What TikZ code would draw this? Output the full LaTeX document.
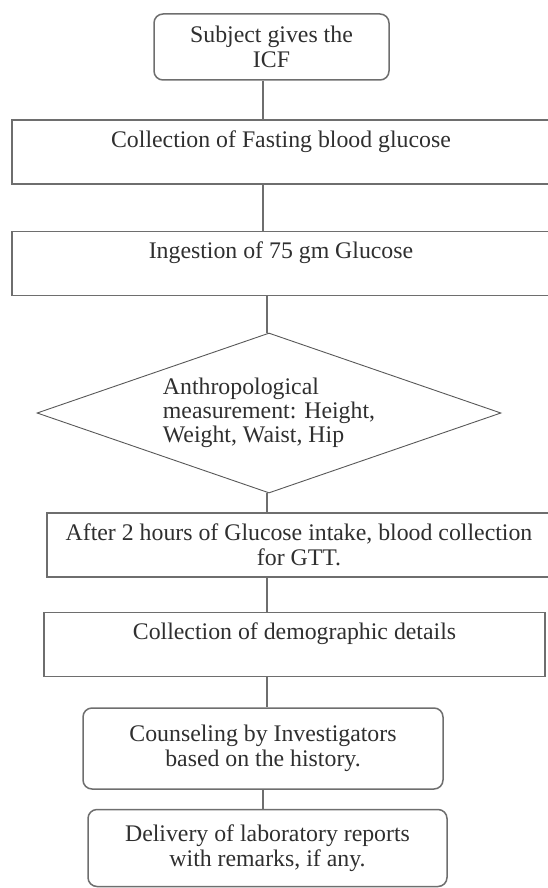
\documentclass[tikz,border=0pt]{standalone}
\usepackage{fontspec}
\setmainfont{Liberation Serif}
\usepackage{tikz}
\usepackage{xcolor}
\usetikzlibrary{
    shapes.geometric,
    positioning
}
\definecolor{inkgray}{HTML}{2F2F2F}
\definecolor{rulegray}{HTML}{6E6E6E}
\tikzset{stepbox/.style={rectangle, draw=rulegray, line width=1.5pt, inner sep=0pt, text=inkgray, align=center, font=\fontsize{23.8}{25}\selectfont}}
\tikzset{roundbox/.style={stepbox, rounded corners=9pt}}
\tikzset{toptext/.style={text height=27pt, text depth=37pt}}
\tikzset{decbox/.style={diamond, draw=rulegray!80!black, line width=0.9pt, inner sep=0pt, aspect=2.9, text=inkgray, align=left, font=\fontsize{23.8}{24}\selectfont}}
\tikzset{link/.style={draw=rulegray, line width=1.5pt}}

\begin{document}
\begin{tikzpicture}[x=1pt, y=-1pt]
    \useasboundingbox (0,0) rectangle (547,888);
    \node[roundbox, minimum width=235pt, minimum height=66pt] (icf) at (271.5, 47) {Subject gives the\\ICF};
    \node[stepbox, toptext, minimum width=538pt] (fbg) at (281, 152) {Collection of Fasting blood glucose};
    \node[stepbox, toptext, minimum width=538pt] (ogl) at (281, 263.5) {Ingestion of 75 gm Glucose};
    \node[decbox, minimum width=464pt, minimum height=160pt] (anthro) at (269, 413) {Anthropological\\measurement: Height,\\Weight, Waist, Hip};
    \node[stepbox, minimum width=504pt, minimum height=64pt] (gtt) at (299, 545) {After 2 hours of Glucose intake, blood collection\\for GTT.};
    \node[stepbox, toptext, minimum width=501pt] (demo) at (294.5, 644.5) {Collection of demographic details};
    \node[roundbox, minimum width=360pt, minimum height=81pt] (counsel) at (263, 748.5) {Counseling by Investigators\\based on the history.};
    \node[roundbox, minimum width=359pt, minimum height=77pt] (report) at (267.5, 848) {Delivery of laboratory reports\\with remarks, if any.};
    \coordinate (spineA) at (263, 0);
    \coordinate (spineB) at (267, 0);
    \draw[link]
    (icf.south -| spineA) -- (fbg.north -| spineA)
    (fbg.south -| spineA) -- (ogl.north -| spineA)
    (ogl.south -| spineB) -- (anthro.north -| spineB)
    (anthro.south -| spineB) -- (gtt.north -| spineB)
    (gtt.south -| spineB) -- (demo.north -| spineB)
    (demo.south -| spineB) -- (counsel.north -| spineB)
    (counsel.south -| spineA) -- (report.north -| spineA);
\end{tikzpicture}
\end{document}
